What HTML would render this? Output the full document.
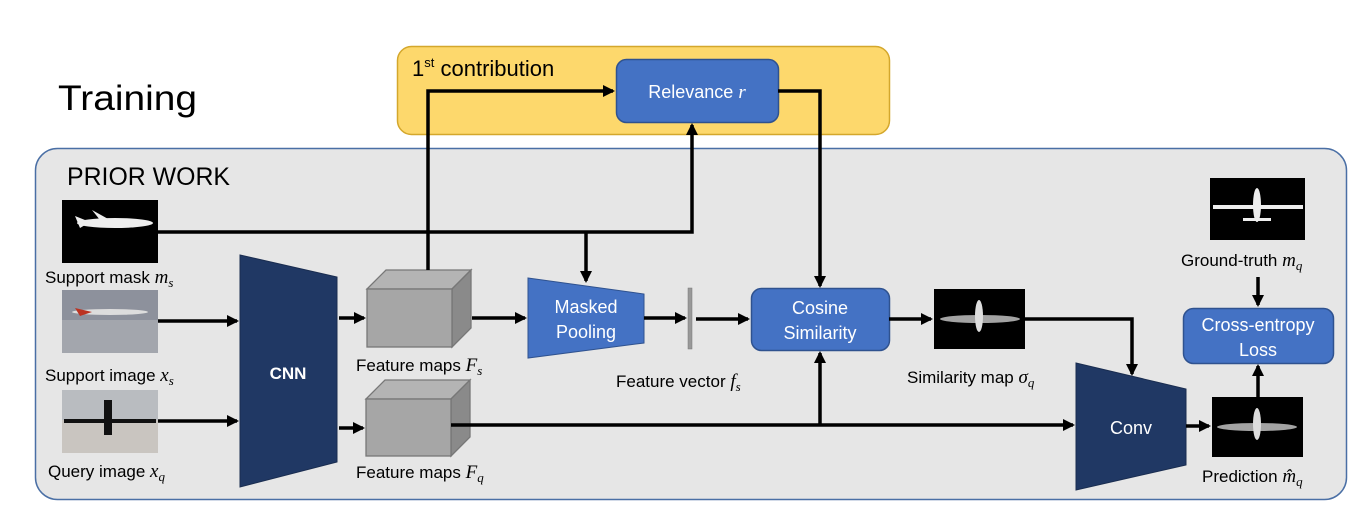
<!DOCTYPE html>
<html><head><meta charset="utf-8"><style>
html,body{margin:0;padding:0;background:#fff;}
svg{display:block;font-family:"Liberation Sans",sans-serif;}
.m{font-family:"Liberation Serif",serif;font-style:italic;font-size:19px;}
</style></head><body>
<svg width="1364" height="516" viewBox="0 0 1364 516" xmlns="http://www.w3.org/2000/svg">
<defs>
<marker id="a" markerWidth="12" markerHeight="12" refX="10" refY="6" orient="auto" markerUnits="userSpaceOnUse">
<path d="M0,0 L12,6 L0,12 z" fill="#000"/></marker>
</defs>
<rect x="397.5" y="46.5" width="492" height="88" rx="14" fill="#fdd86c" stroke="#d4a72c" stroke-width="1.5"/>
<rect x="35.5" y="148.5" width="1311" height="351" rx="22" fill="#e6e6e6" stroke="#4a6fa5" stroke-width="1.5"/>
<text x="58" y="110" font-size="35" textLength="139" lengthAdjust="spacingAndGlyphs">Training</text>
<text x="67" y="185" font-size="25" textLength="163" lengthAdjust="spacingAndGlyphs">PRIOR WORK</text>
<text x="412" y="76" font-size="22">1<tspan font-size="13" dy="-9">st</tspan><tspan dy="9"> contribution</tspan></text>

<rect x="616.5" y="59.5" width="162" height="63" rx="10" fill="#4472c4" stroke="#2f528f" stroke-width="1.5"/>
<text x="697" y="98" font-size="18" fill="#fff" text-anchor="middle">Relevance <tspan class="m" font-size="20">r</tspan></text>

<rect x="62" y="200" width="96" height="63" fill="#000"/>
<ellipse cx="115" cy="223" rx="38" ry="5" fill="#eee"/>
<path d="M75,216 L90,222 L80,228z M100,220 L92,210 L110,220z" fill="#eee"/>
<text x="45" y="283" font-size="17">Support mask <tspan class="m">m<tspan font-size="13" dy="4">s</tspan></tspan></text>

<rect x="62" y="290" width="96" height="63" fill="#8d919c"/>
<rect x="62" y="320" width="96" height="33" fill="#a3a6ad"/>
<ellipse cx="110" cy="312" rx="38" ry="3" fill="#ddd"/>
<path d="M75,308 L92,312 L80,316z" fill="#b32"/>
<text x="45" y="381" font-size="17">Support image <tspan class="m">x<tspan font-size="13" dy="4">s</tspan></tspan></text>

<rect x="62" y="390" width="96" height="63" fill="#c9c5c0"/>
<rect x="62" y="390" width="96" height="30" fill="#b9bcc0"/>
<rect x="104" y="400" width="8" height="35" fill="#111"/>
<rect x="64" y="419" width="92" height="4" fill="#111"/>
<text x="48" y="477" font-size="17">Query image <tspan class="m">x<tspan font-size="13" dy="4">q</tspan></tspan></text>

<polygon points="240,255 337,277 337,462 240,487" fill="#203864" stroke="#1a2d50"/>
<text x="288" y="379" font-size="17" fill="#fff" text-anchor="middle" font-weight="bold">CNN</text>

<g stroke="#777" stroke-width="1.3">
<polygon points="367,289 386,270 471,270 452,289" fill="#b4b4b4"/>
<polygon points="452,289 471,270 471,328 452,347" fill="#8a8a8a"/>
<rect x="367" y="289" width="85" height="58" fill="#a6a6a6"/>
<polygon points="366,399 385,380 470,380 451,399" fill="#b4b4b4"/>
<polygon points="451,399 470,380 470,437 451,456" fill="#8a8a8a"/>
<rect x="366" y="399" width="85" height="57" fill="#a6a6a6"/>
</g>
<text x="356" y="371" font-size="17">Feature maps <tspan class="m">F<tspan font-size="13" dy="4">s</tspan></tspan></text>
<text x="356" y="478" font-size="17">Feature maps <tspan class="m">F<tspan font-size="13" dy="4">q</tspan></tspan></text>

<polygon points="528,278 644,294 644,343 528,358" fill="#4472c4" stroke="#2f528f"/>
<text x="586" y="313" font-size="18" fill="#fff" text-anchor="middle">Masked</text>
<text x="586" y="338" font-size="18" fill="#fff" text-anchor="middle">Pooling</text>
<rect x="688" y="288" width="4" height="61" fill="#999" stroke="#777" stroke-width="0.5"/>
<text x="616" y="387" font-size="17">Feature vector <tspan class="m">f<tspan font-size="13" dy="4">s</tspan></tspan></text>

<rect x="751.5" y="288.5" width="138" height="62" rx="10" fill="#4472c4" stroke="#2f528f" stroke-width="1.5"/>
<text x="820" y="314" font-size="18" fill="#fff" text-anchor="middle">Cosine</text>
<text x="820" y="339" font-size="18" fill="#fff" text-anchor="middle">Similarity</text>

<rect x="934" y="289" width="91" height="60" fill="#000"/>
<ellipse cx="980" cy="319" rx="40" ry="4" fill="#ccc" opacity="0.8"/>
<ellipse cx="979" cy="316" rx="4" ry="16" fill="#ddd"/>
<text x="907" y="383" font-size="17">Similarity map <tspan class="m">σ<tspan font-size="13" dy="4">q</tspan></tspan></text>

<polygon points="1076,363 1186,389 1186,465 1076,490" fill="#203864" stroke="#1a2d50"/>
<text x="1131" y="434" font-size="18" fill="#fff" text-anchor="middle">Conv</text>

<rect x="1212" y="397" width="91" height="60" fill="#000"/>
<ellipse cx="1257" cy="427" rx="40" ry="4" fill="#ccc" opacity="0.8"/>
<ellipse cx="1257" cy="424" rx="4" ry="16" fill="#ddd"/>
<text x="1202" y="482" font-size="17">Prediction <tspan class="m">m̂<tspan font-size="13" dy="4">q</tspan></tspan></text>

<rect x="1210" y="178" width="95" height="62" fill="#000"/>
<rect x="1213" y="205" width="90" height="4" fill="#eee"/>
<ellipse cx="1257" cy="205" rx="4" ry="17" fill="#eee"/>
<rect x="1243" y="218" width="28" height="3" fill="#eee"/>
<text x="1181" y="266" font-size="17">Ground-truth <tspan class="m">m<tspan font-size="13" dy="4">q</tspan></tspan></text>

<rect x="1183.5" y="308.5" width="150" height="55" rx="10" fill="#4472c4" stroke="#2f528f" stroke-width="1.5"/>
<text x="1258" y="331" font-size="18" fill="#fff" text-anchor="middle">Cross-entropy</text>
<text x="1258" y="356" font-size="18" fill="#fff" text-anchor="middle">Loss</text>

<g stroke="#000" stroke-width="3.5" fill="none">
<path d="M158,232 H692 V125" marker-end="url(#a)"/>
<path d="M586,232 V281" marker-end="url(#a)"/>
<path d="M428,270 V91 H613" marker-end="url(#a)"/>
<path d="M778,91 H820 V286" marker-end="url(#a)"/>
<path d="M158,321 H237" marker-end="url(#a)"/>
<path d="M158,421 H237" marker-end="url(#a)"/>
<path d="M339,318 H364" marker-end="url(#a)"/>
<path d="M339,428 H363" marker-end="url(#a)"/>
<path d="M472,318 H525" marker-end="url(#a)"/>
<path d="M644,318 H685" marker-end="url(#a)"/>
<path d="M696,319 H748" marker-end="url(#a)"/>
<path d="M451,425 H1073" marker-end="url(#a)"/>
<path d="M820,425 V353" marker-end="url(#a)"/>
<path d="M889,319 H931" marker-end="url(#a)"/>
<path d="M1025,319 H1132 V374" marker-end="url(#a)"/>
<path d="M1186,426 H1209" marker-end="url(#a)"/>
<path d="M1258,397 V366" marker-end="url(#a)"/>
<path d="M1258,277 V305" marker-end="url(#a)"/>
</g>
</svg>
</body></html>
